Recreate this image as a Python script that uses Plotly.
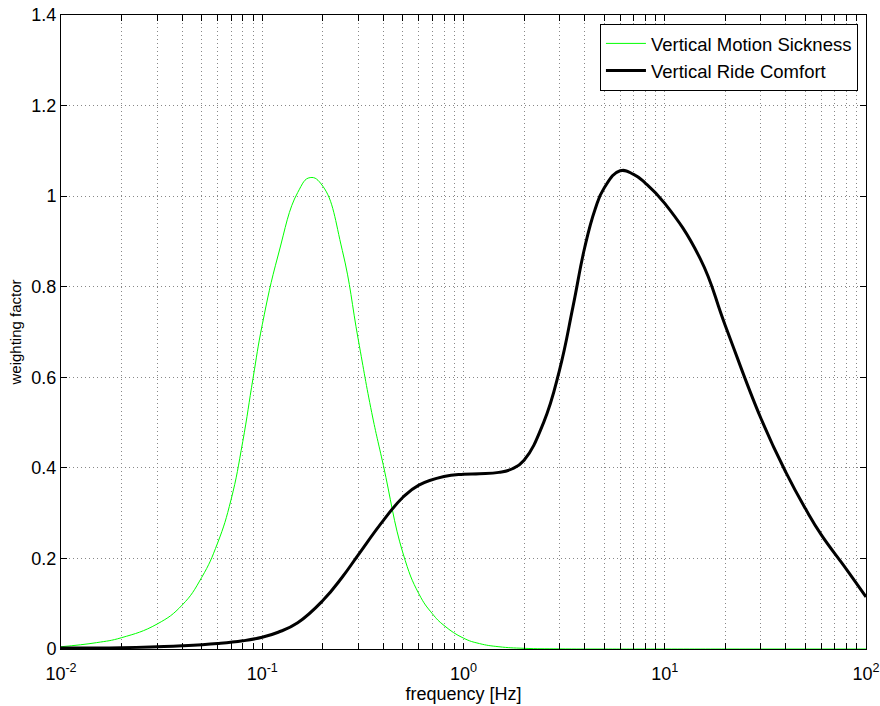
import plotly.graph_objects as go

# Vertical Motion Sickness weighting (green)
f_ms = [0.01, 0.015, 0.02, 0.03, 0.04, 0.05, 0.06, 0.07, 0.08, 0.09, 0.1, 0.12, 0.15,
        0.173, 0.2, 0.25, 0.3, 0.35, 0.4, 0.5, 0.6, 0.7, 0.8, 1.0, 1.2, 1.5, 2.0, 3.0,
        5.0, 10.0, 30.0, 100.0]
w_ms = [0.005, 0.014, 0.025, 0.055, 0.097, 0.158, 0.234, 0.33, 0.458, 0.598, 0.716, 0.87, 1.008,
        1.041, 1.022, 0.88, 0.683, 0.522, 0.405, 0.212, 0.122, 0.078, 0.052, 0.024, 0.012, 0.005, 0.0015, 0.0003,
        0.0, 0.0, 0.0, 0.0]

# Vertical Ride Comfort weighting (black)
f_rc = [0.01, 0.02, 0.03, 0.04, 0.06, 0.08, 0.1, 0.12, 0.15, 0.2, 0.25, 0.3, 0.4, 0.5,
        0.6, 0.8, 1.0, 1.2, 1.5, 1.75, 2.0, 2.5, 3.0, 3.5, 4.0, 4.5, 5.0, 6.0, 7.0, 8.0, 10.0,
        15.0, 20.0, 30.0, 40.0, 50.0, 60.0, 80.0, 100.0]
w_rc = [0.002, 0.003, 0.005, 0.007, 0.012, 0.018, 0.026, 0.037, 0.058, 0.107, 0.159, 0.208, 0.284, 0.335,
        0.362, 0.381, 0.386, 0.387, 0.39, 0.398, 0.417, 0.50, 0.616, 0.756, 0.886, 0.97, 1.018, 1.056, 1.048, 1.029, 0.984,
        0.862, 0.714, 0.51, 0.39, 0.31, 0.252, 0.176, 0.115]

# x tick positions (all decade sub-steps), labels only at decades
x_tickvals = [m * 10.0 ** e for e in range(-2, 2) for m in range(1, 10)] + [100.0]
x_ticktext = [("10<sup>%d</sup>" % e if m == 1 else "") for e in range(-2, 2) for m in range(1, 10)] + ["10<sup>2</sup>"]
y_tickvals = [0, 0.2, 0.4, 0.6, 0.8, 1.0, 1.2, 1.4]
y_ticktext = ["0", "0.2", "0.4", "0.6", "0.8", "1", "1.2", "1.4"]

FONT = "Liberation Sans, Arial, sans-serif"

fig = go.Figure()
fig.add_trace(go.Scatter(x=f_ms, y=w_ms, mode="lines", name="Vertical Motion Sickness",
                         line=dict(color="#00ff00", width=1, shape="spline", smoothing=1.3)))
fig.add_trace(go.Scatter(x=f_rc, y=w_rc, mode="lines", name="Vertical Ride Comfort",
                         line=dict(color="#000000", width=3, shape="spline", smoothing=1.3)))

grid = dict(showgrid=True, gridcolor="#888888", gridwidth=1, griddash="1px,3px")

fig.update_xaxes(type="log", range=[-2, 2], tickvals=x_tickvals, ticktext=x_ticktext,
                 ticks="inside", ticklen=6, tickcolor="#000000", tickwidth=1,
                 showline=True, linecolor="#000000", linewidth=1, mirror="ticks",
                 tickfont=dict(family=FONT, size=18, color="#000000"), ticklabelstandoff=8,
                 title=dict(text="frequency [Hz]", font=dict(family=FONT, size=18, color="#000000"), standoff=2),
                 zeroline=False, automargin=False, **grid)
fig.update_yaxes(range=[0, 1.4], tickvals=y_tickvals, ticktext=y_ticktext,
                 ticks="inside", ticklen=6, tickcolor="#000000", tickwidth=1,
                 showline=True, linecolor="#000000", linewidth=1, mirror="ticks",
                 tickfont=dict(family=FONT, size=18, color="#000000"),
                 title=dict(text="weighting factor", font=dict(family=FONT, size=15, color="#000000"), standoff=6),
                 zeroline=False, automargin=False, **grid)

fig.update_layout(
    width=880, height=706, autosize=False,
    margin=dict(l=61, r=14, t=15, b=57),
    plot_bgcolor="#ffffff", paper_bgcolor="#ffffff",
    font=dict(family=FONT, size=18, color="#000000"),
    legend=dict(x=0.990, y=0.986, xanchor="right", yanchor="top",
                bgcolor="#ffffff", bordercolor="#000000", borderwidth=1,
                font=dict(family=FONT, size=18.5, color="#000000"),
                tracegroupgap=0, itemwidth=40),
)

fig.write_html("out.html", config={"displayModeBar": False},
               post_script="document.body.style.margin='0px';document.body.style.overflow='hidden';")
